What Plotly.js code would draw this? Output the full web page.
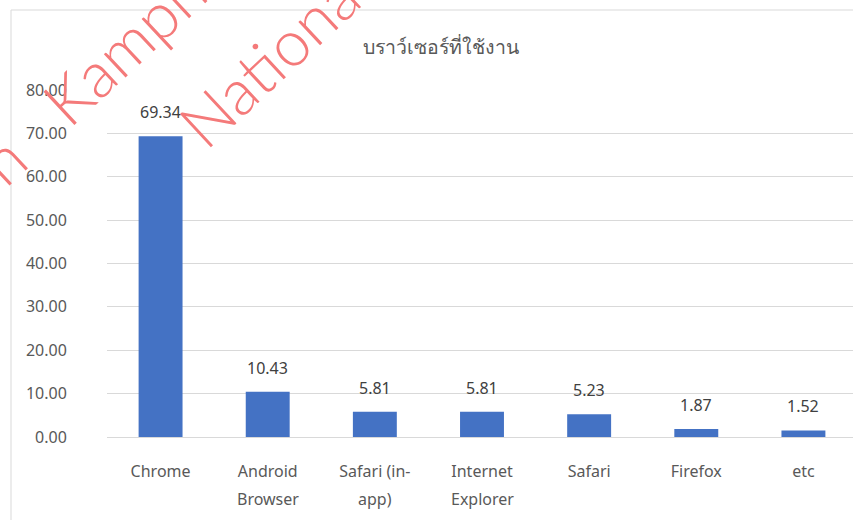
<!DOCTYPE html>
<html>
<head>
<meta charset="utf-8">
<script src="https://cdn.plot.ly/plotly-3.0.1.min.js"></script>
<style>
html,body{margin:0;padding:0;overflow:hidden;background:#fff;}
#chart{width:857px;height:520px;}
</style>
</head>
<body>
<div id="chart"></div>
<script>
const categories = ["Chrome","Android Browser","Safari (in-app)","Internet Explorer","Safari","Firefox","etc"];
const labelLine1 = ["Chrome","Android","Safari (in-","Internet","Safari","Firefox","etc"];
const labelLine2 = ["","Browser","app)","Explorer","","",""];
const values = [69.34,10.43,5.81,5.81,5.23,1.87,1.52];
const valueLabels = ["69.34","10.43","5.81","5.81","5.23","1.87","1.52"];
const yTicks = [0,10,20,30,40,50,60,70,80];
const chartTitle = "บราว์เซอร์ที่ใช้งาน";
const watermarks = ["n\u00a0\u00a0 Kamphaeng","National"];

const W = 857, H = 520;
const L = 107, R = 0, T = 90, B = 83;
const pw = W - L - R, ph = H - T - B;
const px = x => (x - L) / pw;
const py = y => (H - B - y) / ph;

const font = "Noto Sans, Open Sans, sans-serif";

const annotations = [];
categories.forEach((c,i) => {
  annotations.push({x:c, y:values[i], xref:'x', yref:'y', text:valueLabels[i], showarrow:false,
    yanchor:'bottom', yshift:11, font:{family:font, size:16, color:'#404040'}});
  if (labelLine2[i]) {
    annotations.push({x:c, y:py(499), xref:'x', yref:'paper', text:labelLine2[i], showarrow:false,
      yanchor:'middle', font:{family:font, size:16, color:'#595959'}});
  }
});
const wmPos = [[140,31],[273,55]];
watermarks.forEach((t,i) => {
  annotations.push({x:px(wmPos[i][0]), y:py(wmPos[i][1]), xref:'paper', yref:'paper', text:t,
    showarrow:false, textangle:-43, xanchor:'center', yanchor:'middle',
    font:{family:'Lato', size:64, weight:300, color:'#f47a7a'}});
});

const data = [{
  type:'bar', x:categories, y:values, marker:{color:'#4472C4'}, hoverinfo:'none'
}];

const layout = {
  width:W, height:H,
  margin:{l:L, r:R, t:T, b:B, pad:0},
  paper_bgcolor:'#fff', plot_bgcolor:'#fff',
  bargap:0.59,
  showlegend:false,
  title:{text:chartTitle, x:px(441), xref:'paper', xanchor:'center', y:1-47/H, yanchor:'middle',
    font:{family:font, size:19.5, color:'#595959'}},
  xaxis:{type:'category', tickvals:categories, ticktext:labelLine1, range:[-0.5,6.5],
    showgrid:false, zeroline:false, showline:false, ticks:'outside', ticklen:20, tickcolor:'rgba(0,0,0,0)',
    tickfont:{family:font, size:16, color:'#595959'}},
  yaxis:{range:[0,80], tickvals:yTicks, tickformat:'.2f', showgrid:true, gridcolor:'#d9d9d9', gridwidth:1,
    zeroline:true, zerolinecolor:'#d9d9d9', zerolinewidth:1, showline:false,
    ticks:'outside', ticklen:36, tickcolor:'rgba(0,0,0,0)',
    tickfont:{family:font, size:16, color:'#595959'}},
  shapes:[{type:'rect', xref:'paper', yref:'paper', x0:px(11), x1:px(1000), y0:py(700), y1:py(10),
    line:{color:'#d9d9d9', width:1}, fillcolor:'rgba(0,0,0,0)', layer:'below'}],
  annotations:annotations
};

Plotly.newPlot('chart', data, layout, {staticPlot:true, displayModeBar:false});
</script>
</body>
</html>
